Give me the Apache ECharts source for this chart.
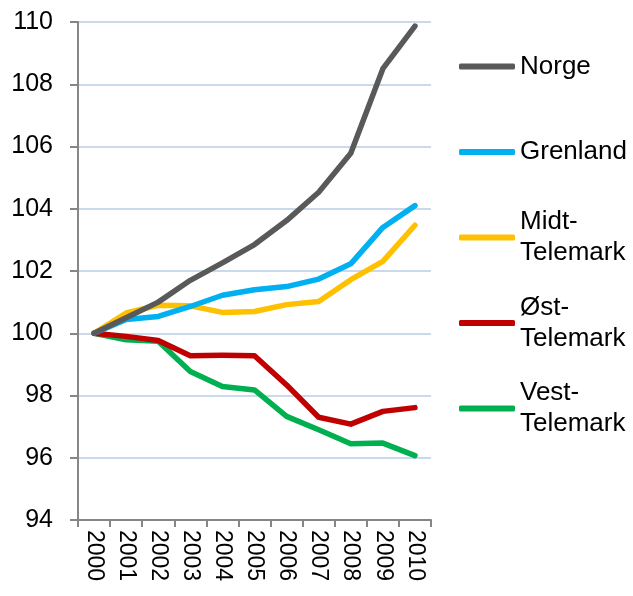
<!DOCTYPE html>
<html>
<head>
<meta charset="utf-8">
<script src="https://cdn.jsdelivr.net/npm/echarts@6/dist/echarts.min.js"></script>
<style>
  html, body { margin: 0; padding: 0; background: #fff; }
</style>
</head>
<body>
<div id="chart" style="width: 633px; height: 596px"></div>
<script>
// data (index, 2000 = 100)
var years = ["2000", "2001", "2002", "2003", "2004", "2005", "2006", "2007", "2008", "2009", "2010"];
var norge = [100, 100.5, 101.0, 101.7, 102.26, 102.85, 103.62, 104.53, 105.78, 108.5, 109.87];
var grenland = [100, 100.44, 100.54, 100.86, 101.22, 101.4, 101.5, 101.74, 102.23, 103.4, 104.1];
var midtTelemark = [100, 100.65, 100.9, 100.88, 100.67, 100.7, 100.92, 101.02, 101.72, 102.31, 103.47];
var ostTelemark = [100, 99.9, 99.77, 99.28, 99.29, 99.28, 98.34, 97.3, 97.08, 97.49, 97.61];
var vestTelemark = [100, 99.79, 99.74, 98.77, 98.29, 98.18, 97.33, 96.9, 96.45, 96.47, 96.07];
var yTicks = { min: 94, max: 110, step: 2 };

var seriesNames = ["Norge", "Grenland", "Midt-Telemark", "Øst-Telemark", "Vest-Telemark"];
var legendLabels = ["Norge", "Grenland", "Midt-\nTelemark", "Øst-\nTelemark", "Vest-\nTelemark"];
var colors = ["#595959", "#00b0f0", "#ffc000", "#c00000", "#00b050"];
var values = [norge, grenland, midtTelemark, ostTelemark, vestTelemark];

var font = "Liberation Sans, Arial, sans-serif";
var myChart = echarts.init(document.getElementById("chart"));

// every legend item is made 3 lines tall so they space evenly,
// icon sits on the first text line
var legendData = seriesNames.map(function (n, i) {
  var twoLines = legendLabels[i].indexOf("\n") >= 0;
  return {
    name: n,
    textStyle: { padding: twoLines ? [31, 0, 0, 0] : [31, 0, 31, 0] }
  };
});

var option = {
  animation: false,
  color: colors,
  grid: { left: 78, right: 202, top: 22, bottom: 76 },
  legend: {
    orient: "vertical",
    left: 459,
    top: 20,
    padding: 0,
    itemGap: -7.5,
    itemWidth: 56,
    itemHeight: 6,
    icon: "roundRect",
    data: legendData,
    formatter: function (name) {
      return legendLabels[seriesNames.indexOf(name)];
    },
    textStyle: { fontFamily: font, fontSize: 26, lineHeight: 31, color: "#000" }
  },
  xAxis: {
    type: "category",
    data: years,
    boundaryGap: true,
    axisLine: { lineStyle: { color: "#868686", width: 2 } },
    axisTick: { show: true, length: 7, lineStyle: { color: "#868686", width: 2 } },
    axisLabel: { rotate: -90, margin: 10, fontFamily: font, fontSize: 23, color: "#000", interval: 0 }
  },
  yAxis: {
    type: "value",
    min: yTicks.min,
    max: yTicks.max,
    interval: yTicks.step,
    axisLine: { show: true, lineStyle: { color: "#868686", width: 2 } },
    axisTick: { show: true, length: 8, lineStyle: { color: "#868686", width: 2 } },
    axisLabel: { margin: 25, fontFamily: font, fontSize: 25, color: "#000" },
    splitLine: { lineStyle: { color: "#b9cde5", width: 1.5 } }
  },
  series: seriesNames.map(function (n, i) {
    return {
      name: n,
      type: "line",
      data: values[i],
      symbol: "none",
      lineStyle: { width: 5.5, color: colors[i], cap: "round", join: "round" },
      itemStyle: { color: colors[i] }
    };
  }).reverse()
};

myChart.setOption(option);
</script>
</body>
</html>
